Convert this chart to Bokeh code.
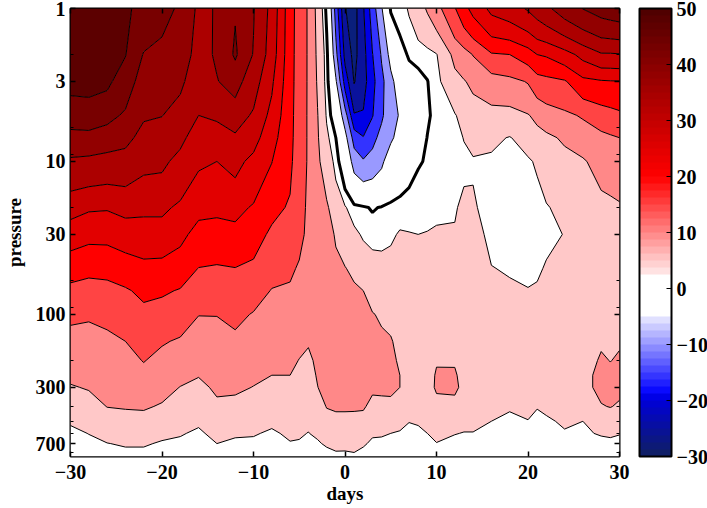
import numpy as np
from bokeh.plotting import figure
from bokeh.models import (ColorBar, FixedTicker, LinearAxis, LinearColorMapper, Range1d,
                          BasicTickFormatter)
from bokeh.embed import file_html
from bokeh.resources import INLINE

pressure = [1, 2, 3, 5, 7, 10, 20, 30, 50, 70, 100, 150, 200, 250, 300, 400, 500, 600, 700, 850]
days = [-30, -28, -26, -24, -22, -20, -18, -16, -14, -12, -10, -8, -6, -5, -4, -3, -2, -1, 0, 1, 2,
        3, 4, 5, 6, 7, 8, 9, 10, 12, 13, 14, 16, 18, 20, 21, 22, 24, 26, 28, 29, 30]

d_m30 = [51, 50, 49, 44.8, 40.9, 36.7, 29.3, 24.8, 19.4, 16.3, 13.4, 10.9, 9.5, 8.3, 7.2, 4.9, 3, 1.5, 0.5, 0.3]
d_m28 = [52, 50.5, 49, 45.3, 40.9, 36.3, 28.1, 23.75, 18.6, 15.8, 13, 10.9, 9.6, 8.6, 7.8, 5.8, 4, 2.6, 1.5, 0.3]
d_m26 = [53, 50, 48.5, 44, 40, 35.7, 27.9, 23.8, 18.8, 16.1, 13.6, 11.5, 10.4, 9.5, 8.8, 7.6, 5.6, 3.8, 2.4, 1]
d_m24 = [48.3, 47.7, 45, 41.8, 38.8, 35.6, 28.9, 24.9, 19.9, 17, 14.9, 12.5, 11.1, 10, 9.2, 7.8, 6.1, 4.4, 2.9, 1.3]
d_m22 = [46, 42.2, 40.3, 38, 36, 33.7, 28.5, 25.2, 21.2, 18.5, 16.3, 14.2, 12.7, 11.2, 10, 8, 6, 4.3, 2.9, 1.3]
d_m20 = [44, 41.2, 39.6, 37.6, 35.6, 33.4, 28.5, 25.2, 21, 18.1, 15.6, 12.9, 11.2, 9.9, 8.9, 7.1, 5.1, 3.4, 2.1, 0.7]
d_m18 = [41.8, 39.7, 38.3, 35.8, 33.5, 31.2, 26.6, 23.7, 19.8, 17.2, 14.7, 12, 10, 8.6, 7.4, 5.5, 4, 2.8, 1.8, 0.5]
d_m16 = [36.5, 36, 35, 32.5, 30.4, 28.2, 23.7, 20.9, 17.4, 15.1, 12.6, 10.4, 8.9, 7.7, 6.5, 4.6, 3.1, 1.9, 0.9, 0.3]
d_m14 = [37.8, 38, 37.3, 33.3, 30, 27.5, 23.4, 20.7, 17, 14.9, 12.6, 11, 9.8, 8.9, 8.2, 6.7, 5, 3.6, 2.5, 1]
d_m12 = [42.2, 43.2, 39.3, 35, 31.7, 28.9, 23.9, 21, 17.4, 15.6, 13.6, 11.5, 10.1, 9, 8.2, 6.3, 4.5, 3, 1.8, 0.3]
d_m10 = [37.8, 37.2, 34.8, 31.8, 29.3, 26.2, 22, 19.6, 16.5, 14.4, 12.2, 10.5, 9.2, 8.2, 7.4, 5.5, 4, 2.8, 1.8, 0.5]
d_m8 = [31, 30.2, 28.3, 26, 24.3, 22.6, 18.8, 16.6, 14, 12.3, 11, 9.5, 8.3, 7.5, 6.4, 4.6, 3.2, 2, 1.2, 0.3]
d_m6 = [19.5, 19.3, 19.2, 19, 18.8, 18.4, 17, 15.5, 13.3, 11.9, 10.7, 9.3, 8.3, 7.5, 6.6, 5.2, 4, 3.1, 2.3, 1]
d_m5 = [15.3, 15.3, 15.2, 15, 15, 14.9, 14.2, 13.7, 12, 10.9, 9.7, 8.4, 7.4, 6.5, 5.7, 4.6, 3.6, 2.9, 2.2, 1]
d_m4 = [12, 12, 12, 12, 12, 12, 11.7, 11.5, 10.5, 9.9, 8.9, 7.8, 6.8, 5.8, 5, 4.1, 3.2, 2.4, 1.7, 0.5]
d_m3 = [6, 6.6, 7, 7.7, 8, 8.4, 9, 9.2, 9.1, 9, 8.8, 8.5, 8.2, 7.9, 7.4, 5.6, 4.3, 3.2, 2, 0.5]
d_m2 = [-0.8, 1, 1.2, 2.1, 3.3, 5, 8.2, 9.5, 10.5, 10.8, 11, 11, 10.5, 9.8, 9.2, 7.7, 5.9, 4.3, 3.1, 0.8]
d_m1 = [-14.5, -10.9, -6.8, -2.8, 0, 1.4, 4.8, 7, 8.6, 9.3, 9.9, 10.4, 10.4, 10.3, 10, 8, 6.5, 5, 3.8, 1.5]
d_0 = [-27.3, -24, -19.5, -10, -5.7, -3, 2.8, 5, 7.7, 9, 10, 10.5, 10.7, 10.8, 10.4, 8, 6.5, 5, 3.7, 1.5]
d_1 = [-29.5, -29, -27.8, -22, -14.5, -9.5, 0.9, 3.4, 6.4, 8.3, 9.3, 10.2, 10.6, 10.7, 10.3, 8, 6.4, 5, 3.9, 1.8]
d_2 = [-23, -24.3, -24.5, -22, -17.2, -11.9, 0.4, 2, 5.4, 7.5, 8.5, 9.5, 10, 10, 9.8, 8, 6, 4.5, 3, 1]
d_3 = [-15, -17.7, -19, -17.8, -13.9, -10.6, -0.3, 1.6, 3.9, 5.9, 7.7, 8.6, 8.8, 8.6, 8.2, 6.3, 4.4, 3, 1.8, 0.3]
d_4 = [-8, -12, -13.8, -13.2, -11, -8.5, 0.2, 1.6, 3.7, 5.3, 7, 8.2, 8.6, 8.5, 8.2, 6.5, 4.4, 3, 1.5, 0.3]
d_5 = [0.4, -5.8, -9, -9.8, -8.3, -4.5, 0.8, 2, 3.8, 5.2, 6.5, 7.8, 8.3, 8.5, 8.3, 6.5, 4.2, 2.5, 1.4, 0.3]
d_6 = [1.3, -1.3, -4.5, -7, -5.8, -3, 1.3, 2.8, 4, 4.8, 5.6, 6.4, 7, 7.5, 7.5, 5.2, 3.5, 2.2, 1.2, 0.3]
d_7 = [2.8, 0.4, -1.8, -3.6, -3.2, -1.6, 1.7, 2.6, 3.8, 4.5, 5, 5.5, 5.8, 6, 6, 4.8, 2.6, 1.6, 0.8, 0.2]
d_8 = [5.5, 0.6, -0.7, -2.1, -2.1, -0.3, 2.1, 2.5, 3.7, 4.3, 4.7, 5, 5, 5, 5, 4.5, 3, 1.5, 0.5, 0.2]
d_9 = [8, 1.2, -0.1, -0.5, 0.1, 0.3, 1.9, 2.6, 3.7, 4.2, 4.5, 5, 5.5, 5.8, 6, 5, 3.6, 2.5, 1.5, 0.3]
d_10 = [10.8, 2.3, 1.5, 1, 0.8, 0.8, 1.7, 3, 3.8, 4.2, 4.5, 5, 7.2, 7.9, 8, 6.3, 4.5, 3.3, 2.4, 0.8]
d_12 = [17.2, 8.9, 5.9, 2.2, 1.7, 1.6, 2.2, 2.8, 3.5, 4, 4.5, 5.2, 7.1, 8, 8.4, 6, 3.8, 2.6, 1.8, 0.3]
d_13 = [21, 10.5, 7.2, 4, 2.6, 1.9, 3.2, 3.6, 3.7, 4, 4.5, 4.9, 5.5, 6, 6.3, 4.6, 3.2, 2.4, 1.6, 0.3]
d_14 = [24, 12.7, 8.5, 5.3, 3.5, 2.2, 2.9, 3.7, 3.8, 4, 4.4, 4.8, 5, 5.2, 5.2, 4.2, 3.2, 2.4, 1.5, 0.3]
d_16 = [28.7, 17, 10.2, 6, 3.3, 1.9, 1.2, 1.7, 2.6, 3.3, 4, 4.6, 5, 5.2, 5.2, 3.8, 2.5, 1.8, 1.2, 0.3]
d_18 = [30.4, 17.5, 11.2, 5.8, 2.3, 1.2, 0.6, 1, 2.2, 3, 3.7, 4.2, 4.6, 5, 4, 2.8, 1.9, 1.2, 0.6, 0.2]
d_20 = [33, 20, 12.8, 7.2, 4.2, 2, 0.3, 0.3, 1.5, 2.7, 3.5, 4.2, 4.5, 4.5, 4.5, 3.3, 2.4, 2, 1.5, 0.3]
d_21 = [34.7, 22.5, 15.3, 8.8, 5.6, 3, 1, 0.6, 2, 2.9, 3.6, 4.3, 4.6, 4.6, 4.6, 2.6, 2, 1.6, 1.1, 0.3]
d_22 = [36.5, 23, 16, 10.2, 6.5, 4.5, 2.2, 1.8, 2.8, 3.4, 4, 4.5, 4.7, 4.7, 4.5, 3.2, 2, 1.2, 0.7, 0.2]
d_24 = [40, 25.5, 17, 11.5, 8.2, 6, 3.7, 2.6, 3, 3.5, 4, 4.5, 4.5, 4.7, 4.8, 4, 3, 2.2, 1.3, 0.3]
d_26 = [42.6, 29, 21.2, 13, 9.8, 7, 5.5, 5, 4.5, 4.5, 4.6, 5, 5.5, 6, 6, 4.6, 2.5, 2.2, 1.5, 0.3]
d_28 = [44.4, 32, 22, 15, 11.3, 9.3, 6, 5.4, 5, 5.2, 5.5, 7, 8, 8.8, 8.8, 7.2, 4.7, 2.7, 1.9, 0.3]
d_29 = [45, 32, 22.2, 15.7, 11.9, 9.6, 6.5, 5.8, 5.3, 5.2, 5.4, 6.6, 7.4, 8.4, 8.7, 7.7, 4.6, 2.9, 1.9, 0.4]
d_30 = [45.5, 32.2, 22.3, 16.5, 12.5, 10, 7, 6.3, 5.6, 5.2, 5.4, 7.1, 8, 8.6, 8.6, 6.9, 4.5, 2.6, 1.9, 0.5]

columns = [d_m30, d_m28, d_m26, d_m24, d_m22, d_m20, d_m18, d_m16, d_m14, d_m12, d_m10, d_m8, d_m6,
           d_m5, d_m4, d_m3, d_m2, d_m1, d_0, d_1, d_2, d_3, d_4, d_5, d_6, d_7, d_8, d_9, d_10, d_12,
           d_13, d_14, d_16, d_18, d_20, d_21, d_22, d_24, d_26, d_28, d_29, d_30]
z = np.array(columns).T

levels = [-32.5, -27.5, -22.5, -17.5, -12.5, -7.5, 2.5, 7.5, 12.5, 17.5, 22.5, 27.5, 32.5, 37.5, 42.5, 47.5, 53.5]
fills = ["#0a1f7c", "#0a129c", "#0000e6", "#3333ff", "#9999ff", "#ffffff", "#ffc8c8", "#ff8888",
         "#ff4444", "#ff0000", "#e20000", "#c80000", "#ac0000", "#920000", "#780000", "#5c0000"]

FONT = "Liberation Serif"


def bar_palette():
    out = []
    for i in range(64):
        v = -30 + 1.25 * (i + 0.5)
        if v < -20:
            t = (v + 30) / 10
            c = (int(16 - 16 * t), int(32 - 32 * t), int(96 + 120 * t))
        elif v < -18.75:
            c = (0, 0, 230)
        elif v < -5:
            t = (v + 18.75) / 13.75
            c = (int(235 * t), int(235 * t), 255)
        elif v < 2.5:
            c = (255, 255, 255)
        elif v < 20:
            t = (20 - v) / 17.5
            c = (255, int(235 * t), int(235 * t))
        else:
            c = (int(255 - (v - 20) / 30 * 178), 0, 0)
        out.append("#%02x%02x%02x" % c)
    return out


p = figure(width=707, height=508, frame_width=549, frame_height=448,
           x_range=Range1d(-30, 30), y_range=Range1d(850, 1), y_axis_type="log",
           output_backend="svg", toolbar_location=None,
           min_border_left=70, min_border_top=8, min_border_bottom=10, min_border_right=0,
           background_fill_color="white")
p.grid.visible = False
p.outline_line_color = "black"
p.outline_line_width = 2

p.contour(days, pressure, z, levels=levels, fill_color=fills, line_color="black", line_width=1)
p.contour(days, pressure, z, levels=[0], line_color="black", line_width=3)


def style(ax):
    ax.axis_line_color = None
    ax.major_tick_in = 5
    ax.major_tick_out = 0
    ax.minor_tick_in = 3
    ax.minor_tick_out = 0
    ax.major_tick_line_color = "black"
    ax.minor_tick_line_color = "black"
    ax.major_tick_line_width = 1.5
    ax.minor_tick_line_width = 1


x_ticks = [-30, -20, -10, 0, 10, 20, 30]
y_ticks = [1, 3, 10, 30, 100, 300, 700]
y_minor = [2, 6, 9, 20, 60, 90, 200, 400, 500, 600, 800]

xa = p.xaxis[0]
xa.ticker = FixedTicker(ticks=x_ticks, minor_ticks=[])
xa.major_label_overrides = {t: str(t).replace("-", "\u2212") for t in x_ticks}
xa.axis_label = "days"
ya = p.yaxis[0]
ya.ticker = FixedTicker(ticks=y_ticks, minor_ticks=y_minor)
ya.formatter = BasicTickFormatter()
ya.major_label_overrides = {t: str(t) for t in y_ticks}
ya.axis_label = "pressure"
for ax in (xa, ya):
    style(ax)
    ax.major_label_text_font = FONT
    ax.major_label_text_font_style = "bold"
    ax.major_label_text_font_size = "20px"
    ax.major_label_text_color = "black"
    ax.axis_label_text_font = FONT
    ax.axis_label_text_font_style = "bold"
    ax.axis_label_text_font_size = "19px"
    ax.axis_label_text_color = "black"
xa.major_label_standoff = 8
xa.axis_label_standoff = 1
ya.major_label_standoff = 5
ya.axis_label_standoff = 8

top = LinearAxis(ticker=FixedTicker(ticks=x_ticks, minor_ticks=[]),
                 major_label_overrides={t: "" for t in x_ticks},
                 major_label_text_font_size="1px", major_label_standoff=0)
right = LinearAxis(ticker=FixedTicker(ticks=y_ticks, minor_ticks=y_minor),
                   major_label_overrides={t: "" for t in y_ticks},
                   major_label_text_font_size="1px", major_label_standoff=0,
                   formatter=BasicTickFormatter())
style(top)
style(right)
p.add_layout(top, "above")
p.add_layout(right, "right")

cb_ticks = [-30, -20, -10, 0, 10, 20, 30, 40, 50]
mapper = LinearColorMapper(palette=bar_palette(), low=-30, high=50)
cb = ColorBar(color_mapper=mapper, width=32, height=448, padding=0, margin=0, location=(20, 0),
              ticker=FixedTicker(ticks=cb_ticks, minor_ticks=[]),
              major_label_overrides={t: str(t).replace("-", "\u2212") for t in cb_ticks},
              major_label_text_font=FONT, major_label_text_font_style="bold",
              major_label_text_font_size="20px", major_label_text_color="black",
              label_standoff=5, bar_line_color="black", bar_line_width=2,
              major_tick_line_color="black", major_tick_in=5, major_tick_out=0,
              minor_tick_line_color=None, border_line_color=None, background_fill_color=None)
p.add_layout(cb, "right")

open("out.html", "w").write(file_html(p, INLINE))
